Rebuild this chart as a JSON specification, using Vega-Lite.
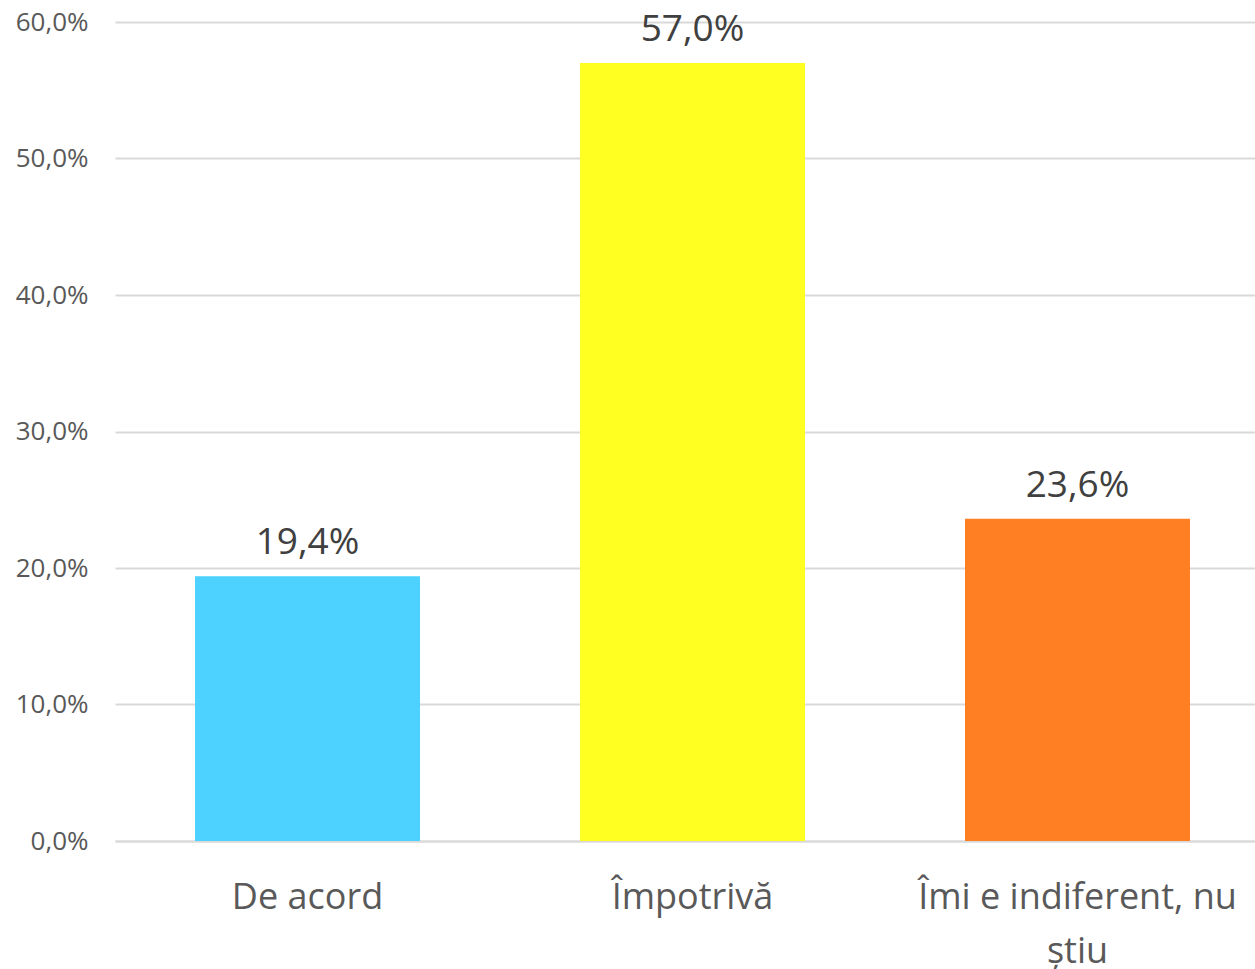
{
  "$schema": "https://vega.github.io/schema/vega-lite/v6.json",
  "autosize": "none",
  "width": 1155,
  "height": 819,
  "padding": {"left": 115, "top": 22, "right": 0, "bottom": 128},
  "background": "white",
  "config": {
    "view": {"stroke": null},
    "font": "Open Sans",
    "locale": {"number": {"decimal": ",", "thousands": ".", "grouping": [3], "currency": ["", " €"]}}
  },
  "data": {"values": [
    {"raspuns": "De acord", "procent": 0.194, "culoare": "#4DD2FF"},
    {"raspuns": "Împotrivă", "procent": 0.570, "culoare": "#FFFF22"},
    {"raspuns": "Îmi e indiferent, nu știu", "procent": 0.236, "culoare": "#FF7F22"}
  ]},
  "encoding": {
    "x": {
      "field": "raspuns", "type": "nominal", "sort": null,
      "scale": {"paddingInner": 0.4156, "paddingOuter": 0.2078},
      "axis": {
        "title": null, "labelAngle": 0, "ticks": false,
        "domainColor": "#d9d9d9", "domainWidth": 2,
        "labelFont": "Open Sans", "labelFontSize": 36, "labelColor": "#595959",
        "labelPadding": 39, "labelBaseline": "top", "labelLineHeight": 54,
        "labelLimit": 0,
        "labelExpr": "datum.value == 'Îmi e indiferent, nu știu' ? ['Îmi e indiferent, nu', 'știu'] : datum.value"
      }
    },
    "y": {
      "field": "procent", "type": "quantitative",
      "scale": {"domain": [0, 0.6]},
      "axis": {
        "title": null, "values": [0, 0.1, 0.2, 0.3, 0.4, 0.5, 0.6],
        "format": ".1%", "domain": false, "ticks": false,
        "gridColor": "#d9d9d9", "gridWidth": 2,
        "labelFont": "Open Sans", "labelFontSize": 26, "labelColor": "#595959",
        "labelPadding": 27
      }
    }
  },
  "layer": [
    {"mark": {"type": "bar"}, "encoding": {"color": {"field": "culoare", "type": "nominal", "scale": null}}},
    {"mark": {"type": "text", "baseline": "alphabetic", "dy": -22, "fontSize": 37, "font": "Open Sans", "color": "#404040"},
     "encoding": {"text": {"field": "procent", "type": "quantitative", "format": ".1%"}}}
  ]
}
